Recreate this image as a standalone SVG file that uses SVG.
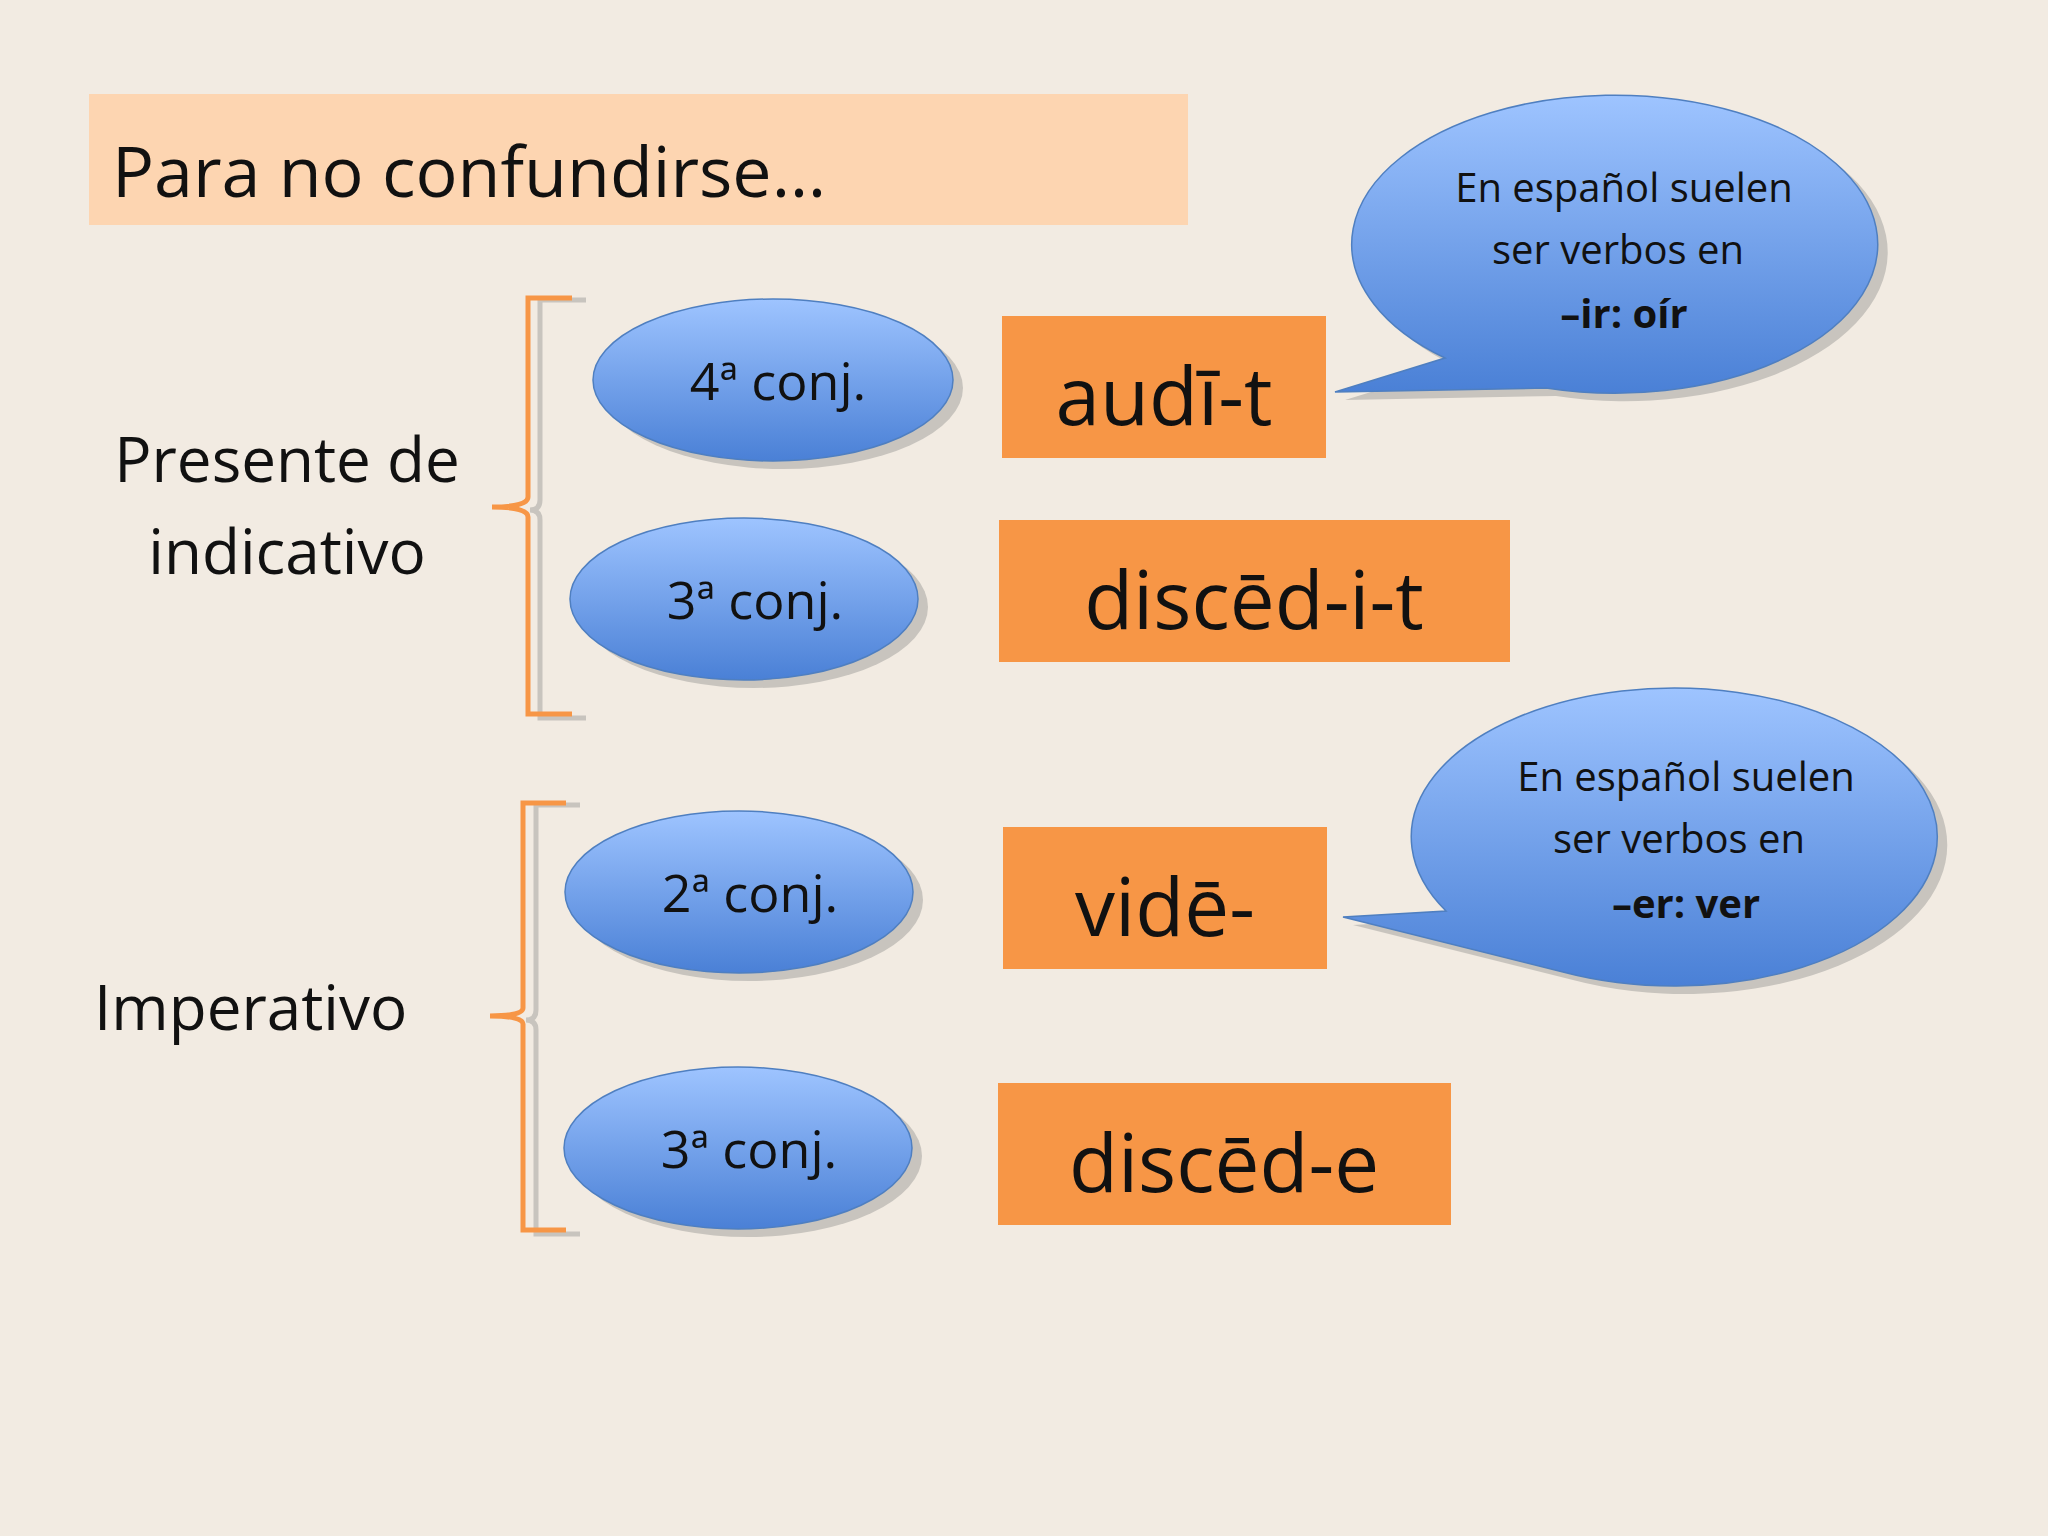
<svg xmlns="http://www.w3.org/2000/svg" width="2048" height="1536" viewBox="0 0 2048 1536">
<defs>
<linearGradient id="g" x1="0" y1="0" x2="0" y2="1"><stop offset="0" stop-color="#9EC4FF"/><stop offset="1" stop-color="#4A80D6"/></linearGradient>
<style>
text{font-family:"Open Sans","Noto Sans",sans-serif;fill:#111}
.ell{fill:url(#g);stroke:#4F7FC0;stroke-width:1.5}
.sh{fill:#C8C4BE}
.box{fill:#F79646}
.br{fill:none;stroke:#F79646;stroke-width:5}
.brs{fill:none;stroke:#C8C4BE;stroke-width:5}
.c{text-anchor:middle}
</style>
</defs>
<rect width="2048" height="1536" fill="#F2EBE2"/>
<g id="title"><rect x="89" y="94" width="1099" height="131" fill="#FDD5B1"/><text x="112" y="197" font-size="70">Para no confundirse…</text></g>
<g id="presente"><text class="c" x="287" y="482" font-size="62">Presente de</text><text class="c" x="287" y="574" font-size="62">indicativo</text></g>
<g id="imperativo"><text x="94" y="1030" font-size="62">Imperativo</text></g>
<g id="connectors">
<path class="brs" d="M586,300 H540 V500 Q540,510 530,510 Q540,510 540,520 V718 H586"/>
<path class="br" d="M572,298 H528 V497 Q528,507 492,507 Q528,507 528,517 V714 H572"/>
<path class="brs" d="M580,805 H536 V1010 Q536,1020 526,1020 Q536,1020 536,1030 V1234 H580"/>
<path class="br" d="M566,803 H523 V1008 Q523,1016 490,1016 Q523,1016 523,1024 V1230 H566"/>
</g>
<g id="e1"><ellipse class="sh" cx="783" cy="388" rx="180" ry="81"/><ellipse class="ell" cx="773" cy="380" rx="180" ry="81"/><text class="c" x="778" y="400" font-size="52">4ª conj.</text></g>
<g id="e2"><ellipse class="sh" cx="754" cy="607" rx="174" ry="81"/><ellipse class="ell" cx="744" cy="599" rx="174" ry="81"/><text class="c" x="755" y="619" font-size="52">3ª conj.</text></g>
<g id="e3"><ellipse class="sh" cx="749" cy="900" rx="174" ry="81"/><ellipse class="ell" cx="739" cy="892" rx="174" ry="81"/><text class="c" x="750" y="912" font-size="52">2ª conj.</text></g>
<g id="e4"><ellipse class="sh" cx="748" cy="1156" rx="174" ry="81"/><ellipse class="ell" cx="738" cy="1148" rx="174" ry="81"/><text class="c" x="749" y="1168" font-size="52">3ª conj.</text></g>
<g id="b1"><rect class="box" x="1002" y="316" width="324" height="142"/><text class="c" x="1164" y="425" font-size="80">audī-t</text></g>
<g id="b2"><rect class="box" x="999" y="520" width="511" height="142"/><text class="c" x="1254" y="629" font-size="80">discēd-i-t</text></g>
<g id="b3"><rect class="box" x="1003" y="827" width="324" height="142"/><text class="c" x="1165" y="936" font-size="80">vidē-</text></g>
<g id="b4"><rect class="box" x="998" y="1083" width="453" height="142"/><text class="c" x="1224" y="1192" font-size="80">discēd-e</text></g>
<g id="bubble1">
<path class="sh" d="M1556,396 L1345,400 L1455,366 A263 149 0 1 1 1556,396 Z"/>
<path class="ell" d="M1546,388 L1335,392 L1445,358 A263 149 0 1 1 1546,388 Z"/>
<text class="c" x="1624" y="202" font-size="40">En español suelen</text>
<text class="c" x="1618" y="264" font-size="40">ser verbos en</text>
<text class="c" x="1624" y="328" font-size="40" font-weight="bold">–ir: oír</text>
</g>
<g id="bubble2">
<path class="sh" d="M1573,980 L1353,925 L1456,919 A263 149 0 1 1 1573,980 Z"/>
<path class="ell" d="M1563,972 L1343,917 L1446,911 A263 149 0 1 1 1563,972 Z"/>
<text class="c" x="1686" y="791" font-size="40">En español suelen</text>
<text class="c" x="1679" y="853" font-size="40">ser verbos en</text>
<text class="c" x="1686" y="918" font-size="40" font-weight="bold">–er: ver</text>
</g>
</svg>
